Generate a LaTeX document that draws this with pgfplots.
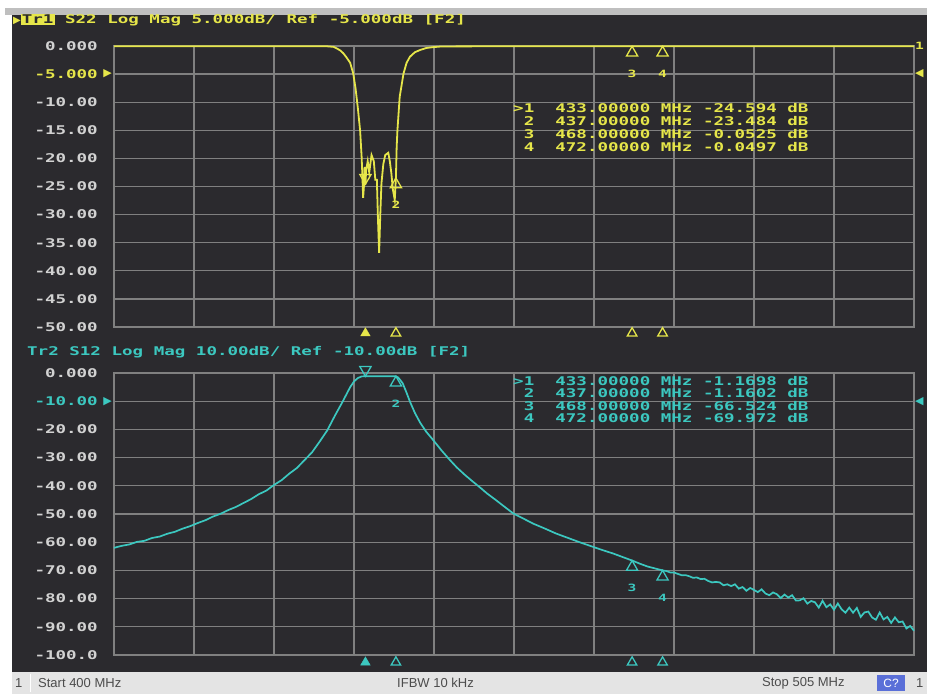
\documentclass[border=0pt]{standalone}
\usepackage{fontspec}
\usepackage{pgfplots}
\pgfplotsset{compat=1.18}
\newfontfamily\vna[FakeStretch=1.46]{DejaVu Sans Mono Bold}
\newfontfamily\sym{DejaVu Sans}
\newfontfamily\stat{Liberation Sans}
\definecolor{bg}{HTML}{2B2A2E}
\definecolor{gridc}{HTML}{808080}
\definecolor{yel}{HTML}{E6E64A}
\definecolor{cya}{HTML}{3CC8C0}
\definecolor{lab}{HTML}{D2D2D2}
\definecolor{statbg}{HTML}{E4E4E4}
\definecolor{boxb}{HTML}{5A6FD8}
\newcommand\vnafont{\vna\fontsize{12}{12}\selectfont}
\pgfplotsset{
  vnaaxis/.style={scale only axis, width=800pt, xmin=400, xmax=505,
    xtick={400,410.5,421,431.5,442,452.5,463,473.5,484,494.5,505}, xticklabels={},
    grid=major, grid style={gridc, line width=1.3pt},
    axis line style={gridc, line width=1.3pt},
    tick style={draw=none}, clip=false,
    axis background/.style={fill=bg},
    yticklabel style={anchor=east, inner sep=0pt, xshift=-16pt, font=\vnafont, text=lab},
  },
  mk/.style={only marks, mark=triangle, mark size=6.5pt, mark options={yshift=-6.5pt, line width=1.3pt},
    point meta=explicit symbolic, nodes near coords,
    every node near coord/.append style={anchor=north, yshift=-13pt, font=\vna\fontsize{10}{10}\selectfont, text=#1}},
}
\begin{document}
\begin{tikzpicture}[x=1pt,y=1pt]
\fill[white] (0,0) rectangle (927,694);
\fill[gray!50] (5,679) rectangle (927,686);
\fill[bg] (12,22) rectangle (927,679);
\fill[statbg] (12,0) rectangle (927,22);
\draw[white, line width=1pt] (30,2) -- (30,20);
\node[anchor=west, inner sep=0, font=\stat\fontsize{13}{13}\selectfont, text=black!70] at (15,11) {1};
\node[anchor=west, inner sep=0, font=\stat\fontsize{13}{13}\selectfont, text=black!70] at (38,11) {Start 400 MHz};
\node[anchor=west, inner sep=0, font=\stat\fontsize{13}{13}\selectfont, text=black!70] at (397,11) {IFBW 10 kHz};
\node[anchor=west, inner sep=0, font=\stat\fontsize{13}{13}\selectfont, text=black!70] at (762,11) {Stop 505 MHz};
\fill[boxb] (877,3) rectangle (905,19);
\node[inner sep=0, font=\stat\fontsize{12}{12}\selectfont, text=white] at (891,11) {C?};
\node[anchor=west, inner sep=0, font=\stat\fontsize{13}{13}\selectfont, text=black!70] at (916,11) {1};

% headers
\node[anchor=west, inner sep=0, font=\vnafont, text=yel] at (13,674)
  {{\sym\fontsize{10}{10}\selectfont ▶}{\setlength{\fboxsep}{1pt}\colorbox{yel}{\textcolor{bg}{Tr1}}} S22 Log Mag 5.000dB/ Ref -5.000dB [F2]};
\node[anchor=west, inner sep=0, font=\vnafont, text=cya] at (27,342)
  {Tr2 S12 Log Mag 10.00dB/ Ref -10.00dB [F2]};

% ---------------- top: S22 ----------------
\begin{axis}[vnaaxis, at={(114pt,367pt)}, anchor=south west, height=281pt,
  ymin=-50, ymax=0, ytick={-50,-45,...,0},
  yticklabels={-50.00,-45.00,-40.00,-35.00,-30.00,-25.00,-20.00,-15.00,-10.00,{\color{yel}-5.000},0.000}]
\addplot[yel, line width=1.8pt] coordinates {
(400,-0.03) (410,-0.03) (420,-0.04) (428,-0.06) (428.8,-0.15) (429.2,-0.4) (429.7,-0.8)
(430.1,-1.3) (430.5,-2.0) (431.0,-3.0) (431.4,-4.9) (431.7,-7.5) (432.0,-11) (432.3,-15)
(432.5,-19.7) (432.6,-23) (432.7,-27) (432.8,-25) (432.9,-21.5) (433.0,-24.6) (433.1,-22)
(433.3,-20.5) (433.5,-22.5) (433.8,-19.4) (434.1,-20.5) (434.3,-23.8) (434.5,-23.8)
(434.65,-31) (434.8,-36.8) (434.95,-30) (435.1,-24.5) (435.35,-21) (435.6,-19.4) (436.0,-19.0)
(436.2,-20.5) (436.4,-22.6) (436.6,-25.5) (436.85,-27.4) (437.0,-23.5) (437.1,-18) (437.2,-15)
(437.5,-9) (438.0,-4.9) (438.4,-3.0) (438.85,-1.9) (439.5,-1.1) (440.2,-0.7) (441.0,-0.35)
(441.9,-0.2) (443,-0.08) (450,-0.05) (468,-0.0525) (472,-0.0497) (490,-0.05) (505,-0.05)
};
\addplot[mk=yel, color=yel] coordinates {(437,-23.484)[2] (468,-0.0525)[3] (472,-0.0497)[4]};
\addplot[only marks, color=yel, mark=triangle, mark size=6.5pt, mark options={yshift=6.5pt, rotate=180, line width=1.3pt}] coordinates {(433,-24.594)};
\addplot[only marks, color=yel, mark=triangle*, mark size=5.5pt] coordinates {(433,-51.1)};
\addplot[only marks, color=yel, mark=triangle, mark size=5.5pt, mark options={line width=1.3pt}] coordinates {(437,-51.1) (468,-51.1) (472,-51.1)};
\node[anchor=east, inner sep=0, xshift=-2pt, text=yel, font=\sym\fontsize{11}{11}\selectfont] at (rel axis cs:0,0.9) {▶};
\node[anchor=west, inner sep=0, xshift=1pt, text=yel, font=\sym\fontsize{11}{11}\selectfont] at (rel axis cs:1,0.9) {◀};
\node[anchor=west, inner sep=0, xshift=1pt, text=yel, font=\vna\fontsize{10}{10}\selectfont] at (rel axis cs:1,1) {1};
\end{axis}

\begin{scope}[font=\vnafont, text=yel]
\node[anchor=west, inner sep=0] at (513,586) {>1\ \ 433.00000 MHz -24.594 dB};
\node[anchor=west, inner sep=0] at (513,573) {\ 2\ \ 437.00000 MHz -23.484 dB};
\node[anchor=west, inner sep=0] at (513,560) {\ 3\ \ 468.00000 MHz -0.0525 dB};
\node[anchor=west, inner sep=0] at (513,547) {\ 4\ \ 472.00000 MHz -0.0497 dB};
\end{scope}

% ---------------- bottom: S12 ----------------
\begin{axis}[vnaaxis, at={(114pt,39pt)}, anchor=south west, height=282pt,
  ymin=-100, ymax=0, ytick={-100,-90,...,0},
  yticklabels={-100.0,-90.00,-80.00,-70.00,-60.00,-50.00,-40.00,-30.00,-20.00,{\color{cya}-10.00},0.000}]
\addplot[cya, line width=1.7pt] coordinates {
(400,-62.0) (401,-61.3) (402,-60.8) (403,-59.9) (404,-59.5) (405,-58.5) (406,-58.0) (407,-57.0)
(408,-56.3) (409,-55.2) (410,-54.3) (411,-53.2) (412,-52.2) (413,-50.9) (414,-49.9) (415,-48.6)
(416,-47.5) (417,-46.1) (418,-44.7) (419,-43.0) (420,-41.7) (421,-39.7) (422,-38.0) (423,-35.7)
(424,-33.7) (425,-30.9) (426,-28.1) (427,-24.3) (428,-20.3) (429,-15.1) (430,-10.2) (430.5,-7.6)
(431,-5.0) (431.5,-3.0) (432,-1.8) (432.5,-1.2) (433,-1.17) (435,-1.16) (437,-1.16)
(437.3,-1.6) (437.6,-2.6) (437.9,-3.7) (438.4,-7.0) (438.85,-10.2) (439.5,-14.2) (440.2,-17.7)
(441,-20.9) (441.9,-23.8) (443,-27.5) (444.1,-30.9) (445,-33.5) (446,-36.0) (447,-38.3)
(448,-40.5) (449,-42.8) (450,-44.8) (451,-46.9) (452.4,-49.8) (453.5,-51.3) (455,-53.4)
(456.5,-55.1) (458,-56.9) (459.5,-58.4) (461,-59.9) (462.5,-61.3) (464,-62.7) (465.5,-64.0)
(467,-65.5) (468,-66.5) (469,-67.6) (470,-68.6) (471,-69.3) (472,-70.0)
(472.5,-70.22) (473,-70.72) (473.5,-70.74) (474,-71.24) (474.5,-71.7) (475,-71.68) (475.5,-72.06)
(476,-72.64) (476.5,-72.5) (477,-73.08) (477.5,-72.98) (478,-73.76) (478.5,-74.26) (479,-74.08)
(479.5,-74.26) (480,-75.29) (480.5,-74.94) (481,-75.56) (481.5,-74.93) (482,-76.46) (482.5,-75.9)
(483,-77.22) (483.5,-76.24) (484,-76.93) (484.5,-77.7) (485,-76.71) (485.5,-78.18) (486,-78.8)
(486.5,-77.82) (487,-78.44) (487.5,-79.84) (488,-78.57) (488.5,-79.63) (489,-78.8) (489.5,-80.69)
(490,-80.63) (490.5,-79.87) (491,-81.77) (491.5,-80.86) (492,-81.3) (492.5,-83.19) (493,-80.78)
(493.5,-83.06) (494,-82.05) (494.5,-83.94) (495,-81.73) (495.5,-83.81) (496,-85.0) (496.5,-83.2)
(497,-85.0) (497.5,-83.3) (498,-86.5) (498.5,-84.9) (499,-84.6) (499.5,-86.7) (500,-87.5)
(500.5,-84.93) (501,-87.37) (501.5,-86.5) (502,-88.63) (502.5,-86.67) (503,-88.4) (503.5,-88.1)
(504,-90.6) (504.5,-89.7) (505,-91.4)
};
\addplot[mk=cya, color=cya] coordinates {(437,-1.1602)[2] (468,-66.524)[3] (472,-69.972)[4]};
\addplot[only marks, color=cya, mark=triangle, mark size=6.5pt, mark options={yshift=6.5pt, rotate=180, line width=1.3pt}] coordinates {(433,-1.1698)};
\addplot[only marks, color=cya, mark=triangle*, mark size=5.5pt] coordinates {(433,-102.6)};
\addplot[only marks, color=cya, mark=triangle, mark size=5.5pt, mark options={line width=1.3pt}] coordinates {(437,-102.6) (468,-102.6) (472,-102.6)};
\node[anchor=east, inner sep=0, xshift=-2pt, text=cya, font=\sym\fontsize{11}{11}\selectfont] at (rel axis cs:0,0.9) {▶};
\node[anchor=west, inner sep=0, xshift=1pt, text=cya, font=\sym\fontsize{11}{11}\selectfont] at (rel axis cs:1,0.9) {◀};
\end{axis}

\begin{scope}[font=\vnafont, text=cya]
\node[anchor=west, inner sep=0] at (513,313) {>1\ \ 433.00000 MHz -1.1698 dB};
\node[anchor=west, inner sep=0] at (513,301) {\ 2\ \ 437.00000 MHz -1.1602 dB};
\node[anchor=west, inner sep=0] at (513,288) {\ 3\ \ 468.00000 MHz -66.524 dB};
\node[anchor=west, inner sep=0] at (513,276) {\ 4\ \ 472.00000 MHz -69.972 dB};
\end{scope}
\end{tikzpicture}
\end{document}
